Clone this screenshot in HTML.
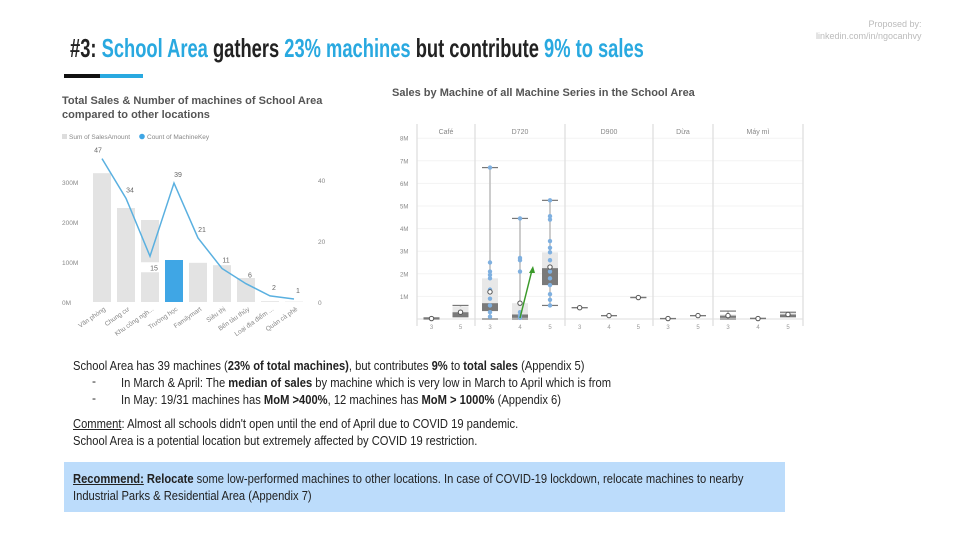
<!DOCTYPE html>
<html><head><meta charset="utf-8">
<style>
body{margin:0;width:960px;height:540px;background:#fff;position:relative;overflow:hidden;font-family:"Liberation Sans",sans-serif;color:#222}
.abs{position:absolute;white-space:nowrap;transform-origin:left top}
.b{color:#29a9e0}
.txt{font-size:13px;line-height:17px;transform:scaleX(0.86)}
svg text{font-family:"Liberation Sans",sans-serif}
</style></head><body>
<div class="abs" style="left:70px;top:33px;font-size:26px;font-weight:bold;transform:scaleX(0.705)">#3: <span class="b">School Area</span> gathers <span class="b">23% machines</span> but contribute <span class="b">9% to sales</span></div>
<div class="abs" style="left:64px;top:74px;width:36px;height:4px;background:#111"></div>
<div class="abs" style="left:100px;top:74px;width:43px;height:4px;background:#29a9e0"></div>
<div class="abs" style="left:816px;top:18px;font-size:9px;color:#bbb;text-align:right;line-height:12px">&nbsp;&nbsp;&nbsp;&nbsp;&nbsp;&nbsp;&nbsp;&nbsp;&nbsp;&nbsp;&nbsp;&nbsp;&nbsp;&nbsp;&nbsp;&nbsp;&nbsp;&nbsp;&nbsp;&nbsp;&nbsp;Proposed by:<br>linkedin.com/in/ngocanhvy</div>

<div class="abs" style="left:62px;top:94px;font-size:11px;font-weight:bold;color:#555;line-height:14px">Total Sales &amp; Number of machines of School Area<br>compared to other locations</div>
<div class="abs" style="left:392px;top:87px;font-size:11px;font-weight:bold;color:#555">Sales by Machine of all Machine Series in the School Area</div>

<svg id="lc" class="abs" style="left:0;top:0" width="960" height="540"></svg>
<svg id="rc" class="abs" style="left:0;top:0" width="960" height="540"></svg>

<div class="abs txt" style="left:73px;top:357px">School Area has 39 machines (<b>23% of total machines)</b>, but contributes <b>9%</b> to <b>total sales</b> (Appendix 5)</div>
<div class="abs" style="left:92px;top:374px;font-size:12px">-</div>
<div class="abs" style="left:92px;top:391px;font-size:12px">-</div>
<div class="abs txt" style="left:121px;top:374px">In March &amp; April: The <b>median of sales</b> by machine which is very low in March to April which is from</div>
<div class="abs txt" style="left:121px;top:391px">In May: 19/31 machines has <b>MoM &gt;400%</b>, 12 machines has <b>MoM &gt; 1000%</b> (Appendix 6)</div>
<div class="abs txt" style="left:73px;top:415px"><u>Comment</u>: Almost all schools didn't open until the end of April due to COVID 19 pandemic.<br>School Area is a potential location but extremely affected by COVID 19 restriction.</div>
<div class="abs" style="left:64px;top:462px;width:721px;height:50px;background:#bcdcfb"></div>
<div class="abs txt" style="left:73px;top:470px"><b><u>Recommend:</u> Relocate</b> some low-performed machines to other locations. In case of COVID-19 lockdown, relocate machines to nearby<br>Industrial Parks &amp; Residential Area (Appendix 7)</div>

<script>
// ---- left chart data ----
const locations=["Văn phòng","Chung cư","Khu công ngh...","Trường học","Familymart","Siêu thị","Bến tàu thủy","Loại địa điểm ...","Quán cà phê"];
const salesM=[322,235,205,105,98,92,60,2,1];
const machineCount=[47,34,15,39,21,11,6,2,1];
const leftTicks=[0,100,200,300];
const rightTicks=[0,20,40];
// ---- right chart data ----
const series=["Café","D720","D900","Dừa","Máy mì"];
const seriesMonths=[["3","5"],["3","4","5"],["3","4","5"],["3","5"],["3","4","5"]];
const boxMin=[[0,0.1],[0,0,0.6],[0.5,0.15,0.95],[0.02,0.15],[0,0.02,0.1]];
const boxQ1=[[0,0.1],[0.35,0.05,1.5],[0.5,0.15,0.95],[0.02,0.15],[0.05,0.02,0.1]];
const boxMed=[[0.01,0.3],[0.7,0.2,2.25],[0.5,0.15,0.95],[0.02,0.15],[0.15,0.02,0.2]];
const boxQ3=[[0.02,0.55],[1.8,0.7,2.95],[0.5,0.15,0.95],[0.02,0.15],[0.2,0.03,0.3]];
const boxMax=[[0.05,0.6],[6.7,4.45,5.25],[0.5,0.15,0.95],[0.02,0.15],[0.35,0.03,0.3]];
const boxMean=[[0.02,0.3],[1.2,0.7,2.3],[0.5,0.15,0.95],[0.02,0.15],[0.15,0.02,0.2]];
const d720Pts3=[0.1,0.3,0.6,0.9,1.3,1.8,1.95,2.1,2.5,6.7];
const d720Pts4=[0.05,0.15,0.3,2.1,2.6,2.7,4.45];
const d720Pts5=[0.6,0.85,1.1,1.5,1.8,2.1,2.6,2.95,3.15,3.45,4.4,4.55,5.25];
const yTicksM=[1,2,3,4,5,6,7,8];

const NS="http://www.w3.org/2000/svg";
function mk(svg,tag,attrs,txt){const e=document.createElementNS(NS,tag);for(const k in attrs)e.setAttribute(k,attrs[k]);if(txt!==undefined)e.textContent=txt;svg.appendChild(e);return e;}

// left chart
const lc=document.getElementById('lc');
const lx=i=>102+i*24, ly=v=>302-v*0.4, ly2=c=>302-c*61/20;
let e;
e=mk(lc,'rect',{x:62,y:134,width:5,height:5,fill:'#ddd'});

e=mk(lc,'text',{x:69,y:139,'font-size':6.5,fill:'#888'},'Sum of SalesAmount');

e=mk(lc,'circle',{cx:142,cy:136.5,r:2.8,fill:'#3fa6e5'});

e=mk(lc,'text',{x:147,y:139,'font-size':6.5,fill:'#888'},'Count of MachineKey');

leftTicks.forEach(t=>{e=mk(lc,'text',{x:62,y:ly(t)+3,'font-size':6.5,fill:'#888'},t+'M');
});
rightTicks.forEach(t=>{e=mk(lc,'text',{x:318,y:ly2(t)+3,'font-size':6.5,fill:'#888'},t);
});
salesM.forEach((v,i)=>{e=mk(lc,'rect',{x:lx(i)-9,y:ly(v),width:18,height:302-ly(v),fill:i==3?'#3fa6e5':'#e3e3e3'});
});
e=mk(lc,'polyline',{points:machineCount.map((c,i)=>lx(i)+','+ly2(c)).join(' '),fill:'none',stroke:'#5ab0e0','stroke-width':1.5});

machineCount.forEach((c,i)=>{const yy=i==2?ly2(c)+14:ly2(c)-6;
if(i==2){e=mk(lc,'rect',{x:lx(i)-9,y:yy-8,width:18,height:10,fill:'#fff'});}
e=mk(lc,'text',{x:lx(i)+(i==0?-4:4),y:yy,'font-size':7,fill:'#666','text-anchor':'middle'},c);
});
locations.forEach((n,i)=>{e=mk(lc,'text',{x:lx(i)+4,y:310,'font-size':6.5,fill:'#888','text-anchor':'end',transform:`rotate(-35 ${lx(i)+4} 310)`},n);
});

// right chart
const rc=document.getElementById('rc');
const ry=v=>319-v*22.6;
const panelEdges=[417,475,565,653,713,803];
yTicksM.forEach(t=>{e=mk(rc,'line',{x1:417,x2:803,y1:ry(t),y2:ry(t),stroke:'#f3f3f3'});

e=mk(rc,'text',{x:400,y:ry(t)+2.5,'font-size':6,fill:'#888'},t+'M');
});
panelEdges.forEach(x=>{e=mk(rc,'line',{x1:x,x2:x,y1:124,y2:326,stroke:'#ddd','stroke-width':1.2});
});
e=mk(rc,'line',{x1:417,x2:803,y1:319,y2:319,stroke:'#ddd'});
series.forEach((s,si)=>{
 const x0=panelEdges[si],x1=panelEdges[si+1],n=seriesMonths[si].length,w=(x1-x0)/n;
 e=mk(rc,'text',{x:(x0+x1)/2,y:134,'font-size':7,fill:'#888','text-anchor':'middle'},s);
 
 seriesMonths[si].forEach((m,mi)=>{
  const cx=x0+w*(mi+0.5);
  e=mk(rc,'text',{x:cx,y:329,'font-size':6,fill:'#999','text-anchor':'middle'},m);
  
  const g=mk(rc,'g',{});
  
  
  mk(g,'line',{x1:cx,x2:cx,y1:ry(boxMin[si][mi]),y2:ry(boxMax[si][mi]),stroke:'#bbb','stroke-width':1.5});
  mk(g,'rect',{x:cx-8,y:ry(boxQ3[si][mi]),width:16,height:ry(boxMed[si][mi])-ry(boxQ3[si][mi]),fill:'#e8e8e8'});
  mk(g,'rect',{x:cx-8,y:ry(boxMed[si][mi]),width:16,height:ry(boxQ1[si][mi])-ry(boxMed[si][mi]),fill:'#7a7a7a'});
  [boxMin[si][mi],boxMax[si][mi]].forEach(v=>mk(g,'line',{x1:cx-8,x2:cx+8,y1:ry(v),y2:ry(v),stroke:'#777','stroke-width':1.2}));
  if(si==1){[d720Pts3,d720Pts4,d720Pts5][mi].forEach(v=>{const p=mk(rc,'circle',{cx:cx,cy:ry(v),r:2.2,fill:'#7fb0e0'});
   });}
  mk(rc,'circle',{cx:cx,cy:ry(boxMean[si][mi]),r:2.2,fill:'#fff',stroke:'#555','stroke-width':1});
 });
});
e=mk(rc,'line',{x1:520,y1:318,x2:532,y2:270,stroke:'#3a9a2a','stroke-width':1.5});

mk(rc,'polygon',{points:'533,266 529,273 535,273',fill:'#3a9a2a'});
</script>
</body></html>
